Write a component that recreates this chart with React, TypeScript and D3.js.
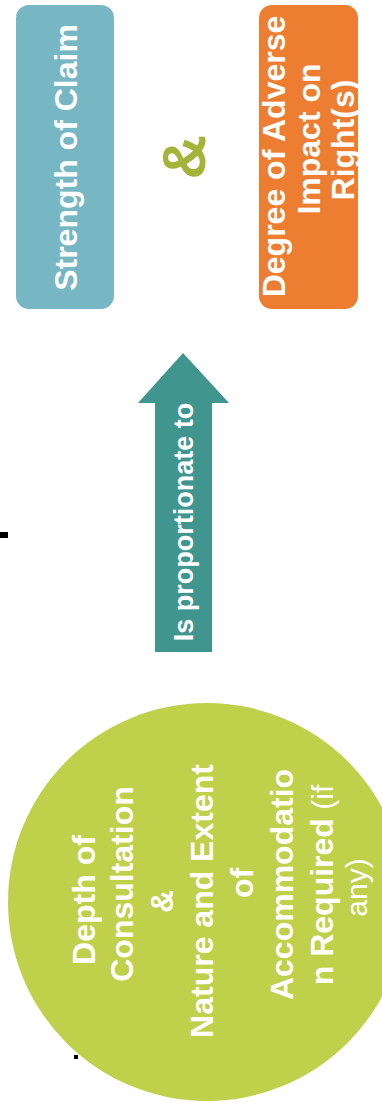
import React from "react";
import * as d3 from "d3";

const W = 382;
const H = 1113;

const blueLines = ["Strength of Claim"];
const orangeLines = ["Degree of Adverse", "Impact on", "Right(s)"];
const connector = "&";
const arrowLabel = "Is proportionate to";
const circleLines = [
  "Depth of",
  "Consultation",
  "&",
  "Nature and Extent",
  "of",
  "Accommodatio",
  "n Required",
  "any)",
];
const circleSuffix = " (if";

const colors = {
  blue: "#77b6c3",
  orange: "#ed7d31",
  amp: "#a2b43a",
  arrow: "#41958f",
  circle: "#bfd04a",
};

// layout helpers (positions)
const blueBase = [77];
const blueCenter = [157.5];
const orangeBase = [285, 320, 354];
const orangeCenter = [156.5, 139, 140];
const circleBase = [95, 133, 173, 213, 253, 293, 333, 367];
const circleCenter = [900, 884, 901.5, 901, 883, 884.5, 885, 887.5];

const FONT = "'Liberation Sans', Arial, sans-serif";

function RotText({ x, y, children, size = 32, weight = 700, fill = "#fff" }: any) {
  return (
    <text
      transform={`translate(${x},${y}) rotate(-90)`}
      textAnchor="middle"
      fontFamily={FONT}
      fontSize={size}
      fontWeight={weight}
      fill={fill}
    >
      {children}
    </text>
  );
}

export default function App() {
  const arrow = d3.path();
  const tipX = 183, tipY = 353, headY = 403, headL = 138, headR = 229, shaftL = 155, shaftR = 212, bottom = 652;
  arrow.moveTo(tipX, tipY);
  arrow.lineTo(headR, headY);
  arrow.lineTo(shaftR, headY);
  arrow.lineTo(shaftR, bottom);
  arrow.lineTo(shaftL, bottom);
  arrow.lineTo(shaftL, headY);
  arrow.lineTo(headL, headY);
  arrow.closePath();

  return (
    <svg
      width={W}
      height={H}
      style={{ position: "absolute", left: 0, top: 0, background: "#fff" }}
    >
      <rect x={16} y={5} width={98} height={304} rx={13} fill={colors.blue} />
      <rect x={259} y={5} width={99} height={304} rx={13} fill={colors.orange} />

      {blueLines.map((t, i) => (
        <RotText key={t} x={blueBase[i]} y={blueCenter[i]}>{t}</RotText>
      ))}
      {orangeLines.map((t, i) => (
        <RotText key={t} x={orangeBase[i]} y={orangeCenter[i]}>{t}</RotText>
      ))}

      <RotText x={205} y={157} size={62} fill={colors.amp}>{connector}</RotText>

      <path d={arrow.toString()} fill={colors.arrow} />
      <RotText x={193} y={522} size={27}>{arrowLabel}</RotText>

      <circle cx={207} cy={902} r={199} fill={colors.circle} />
      {circleLines.map((t, i) => {
        if (t === "n Required") {
          return (
            <RotText key={t} x={circleBase[i]} y={circleCenter[i]}>
              {t}
              <tspan fontWeight={400} fontSize={30}>{circleSuffix}</tspan>
            </RotText>
          );
        }
        if (t === "any)") {
          return (
            <RotText key={t} x={circleBase[i]} y={circleCenter[i]} size={30} weight={400}>{t}</RotText>
          );
        }
        return (
          <RotText key={t + i} x={circleBase[i]} y={circleCenter[i]}>{t}</RotText>
        );
      })}

      <rect x={0} y={532} width={8} height={6} fill="#000" />
      <rect x={74} y={1055} width={4} height={4} fill="#000" />
    </svg>
  );
}
